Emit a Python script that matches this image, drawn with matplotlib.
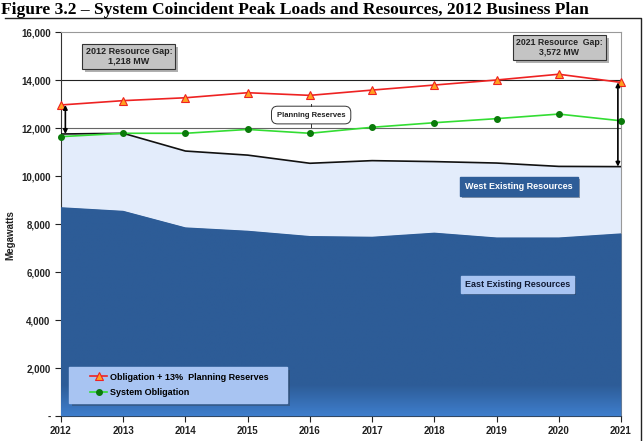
import matplotlib
matplotlib.use("Agg")
import matplotlib.pyplot as plt
import numpy as np
from matplotlib.patches import Rectangle
from matplotlib.lines import Line2D
import matplotlib.patheffects as pe
from matplotlib.colors import LinearSegmentedColormap

years = [2012, 2013, 2014, 2015, 2016, 2017, 2018, 2019, 2020, 2021]
east = [8700, 8550, 7860, 7720, 7500, 7470, 7640, 7440, 7440, 7610]
total_existing = [11750, 11780, 11040, 10870, 10530, 10640, 10600, 10540, 10400, 10390]
obligation_plus = [12960, 13140, 13260, 13470, 13360, 13580, 13790, 14000, 14240, 13900]
obligation = [11640, 11780, 11780, 11940, 11780, 12030, 12220, 12390, 12580, 12300]
yticks = [0, 2000, 4000, 6000, 8000, 10000, 12000, 14000, 16000]
ytick_labels = ["-", "2,000", "4,000", "6,000", "8,000", "10,000", "12,000", "14,000", "16,000"]

plt.rcParams['font.family'] = ['Liberation Sans', 'DejaVu Sans']

fig = plt.figure(figsize=(6.44, 4.41), dpi=100)
ax = fig.add_axes([61/644, 1-416/441, 560/644, 384/441])

# outer frame (top and right edges)
fig.lines.append(Line2D([5/644, 641/644, 641/644], [1-18/441, 1-18/441, 0], transform=fig.transFigure,
                        color='#222222', linewidth=1.0))
fig.text(0.002, 1-14/441, "Figure 3.2 \u2013 System Coincident Peak Loads and Resources, 2012 Business Plan",
         family=['Liberation Serif'], fontweight='bold', fontsize=12.6, ha='left', va='baseline')

ax.set_xlim(2012, 2021)
ax.set_ylim(0, 16000)

# gridlines
ax.axhline(12000, color='#666666', linewidth=0.8, zorder=1)
ax.axhline(14000, color='#222222', linewidth=0.8, zorder=1)

ax.fill_between(years, east, total_existing, color='#E3ECFB', linewidth=0, zorder=2)
east_fill = ax.fill_between(years, 0, east, color='#2E5D98', linewidth=0, zorder=3)
# vertical gradient on east fill (lighter near the bottom)
grad_vals = np.concatenate([np.zeros(85), np.linspace(0, 1, 15)])[:, None] * np.ones((1, 2))
cmap = LinearSegmentedColormap.from_list('b', ['#2D5C97', '#3E7DCB'])
im = ax.imshow(grad_vals, extent=[2012, 2021, 0, 9000], origin='upper', aspect='auto', cmap=cmap,
               zorder=3.5, interpolation='bilinear')
im.set_clip_path(east_fill.get_paths()[0], transform=ax.transData)
ax.set_ylim(0, 16000)
ax.set_xlim(2012, 2021)

ax.plot(years, total_existing, color='#111111', linewidth=1.2, zorder=4)
l1, = ax.plot(years, obligation_plus, color='#EE2222', linewidth=1.2, marker='^', markersize=6,
              markerfacecolor='#FFA020', markeredgecolor='#EE2222', markeredgewidth=0.8, zorder=6,
              clip_on=False)
l2, = ax.plot(years, obligation, color='#33DD33', linewidth=1.2, marker='o', markersize=4,
              markerfacecolor='#0A7A0A', markeredgecolor='#0A7A0A', zorder=5, clip_on=False)

# arrows
ax.annotate('', xy=(2012.07, total_existing[0]), xytext=(2012.07, obligation_plus[0]),
            arrowprops=dict(arrowstyle='<|-|>', color='black', lw=1.2, mutation_scale=6,
                            shrinkA=0, shrinkB=0), zorder=7)
ax.annotate('', xy=(2020.95, total_existing[-1]), xytext=(2020.95, obligation_plus[-1]),
            arrowprops=dict(arrowstyle='<|-|>', color='black', lw=1.2, mutation_scale=6,
                            shrinkA=0, shrinkB=0), zorder=7)

# text boxes
box_gray = dict(boxstyle='square,pad=0.35', facecolor='#C4C4C4', edgecolor='#333333', linewidth=0.8)
t1 = ax.text(2013.09, 14980, "2012 Resource Gap:\n1,218 MW", ha='center', va='center', fontsize=6.5,
             fontweight='bold', color='#222222', bbox=box_gray, zorder=8, linespacing=1.1)
t2 = ax.text(2020.01, 15350, "2021 Resource  Gap:\n3,572 MW", ha='center', va='center', fontsize=6.3,
             fontweight='bold', color='#222222', bbox=box_gray, zorder=8, linespacing=1.1)
for t in (t1, t2):
    t.get_bbox_patch().set_path_effects([pe.SimplePatchShadow(offset=(2, -2), alpha=0.4), pe.Normal()])

# planning reserves brace-like label
pr_x, pr_y = 2016.02, 12540
ax.text(pr_x, pr_y, "Planning Reserves", ha='center', va='center', fontsize=5.5, fontweight='bold',
        color='#222222', zorder=8,
        bbox=dict(boxstyle='round,pad=0.7,rounding_size=0.8', facecolor='white', edgecolor='#333333',
                  linewidth=0.7))
ax.plot([pr_x, pr_x], [pr_y + 360, pr_y + 480], color='#333333', lw=0.7, zorder=8.5)
ax.plot([pr_x, pr_x], [pr_y - 360, pr_y - 480], color='#333333', lw=0.7, zorder=8.5)

tw = ax.text(2019.36, 9560, "West Existing Resources", ha='center', va='center', fontsize=6.5,
             fontweight='bold', color='white', zorder=8,
             bbox=dict(boxstyle='square,pad=0.55', facecolor='#2E5D98', edgecolor='#2E5D98'))
te = ax.text(2019.34, 5480, "East Existing Resources", ha='center', va='center', fontsize=6.5,
             fontweight='bold', color='#111a33', zorder=8,
             bbox=dict(boxstyle='square,pad=0.4', facecolor='#A8C4F2', edgecolor='#A8C4F2'))
for t in (tw, te):
    t.get_bbox_patch().set_path_effects([pe.SimplePatchShadow(offset=(1.5, -1.5), alpha=0.4), pe.Normal()])

# legend background box
legbg = Rectangle(((69-61)/560, (416-403)/384), 218/560, 36/384, transform=ax.transAxes,
                  facecolor='#A8C4F2', edgecolor='#A8C4F2', zorder=8.5)
legbg.set_path_effects([pe.SimplePatchShadow(offset=(2, -2), alpha=0.4), pe.Normal()])
ax.add_patch(legbg)
leg = ax.legend([l1, l2], ['Obligation + 13%  Planning Reserves', 'System Obligation'],
                loc='center left', bbox_to_anchor=((90-61)/560, (416-385)/384), frameon=False,
                borderpad=0, borderaxespad=0, handlelength=1.9, handletextpad=0.3, labelspacing=0.75,
                prop={'weight': 'bold', 'size': 6.5})
leg.set_zorder(9)

ax.set_yticks(yticks)
ax.set_yticklabels(ytick_labels)
ax.set_xticks(years)
ax.set_xticklabels([str(y) for y in years])
ax.tick_params(axis='both', labelsize=7, colors='#222222', length=4, width=0.8)
for lab in ax.get_xticklabels() + ax.get_yticklabels():
    lab.set_fontweight('bold')
ax.tick_params(axis='x', direction='out', pad=3)
ax.set_ylabel("Megawatts", fontsize=7, fontweight='bold', color='#222222')
ax.yaxis.set_label_coords(-0.082, 0.47)

for s in ['top', 'right']:
    ax.spines[s].set_color('#999999')
    ax.spines[s].set_linewidth(0.8)
ax.spines['left'].set_color('#333333')
ax.spines['bottom'].set_color('#333333')

fig.savefig("out.png", dpi=100)
